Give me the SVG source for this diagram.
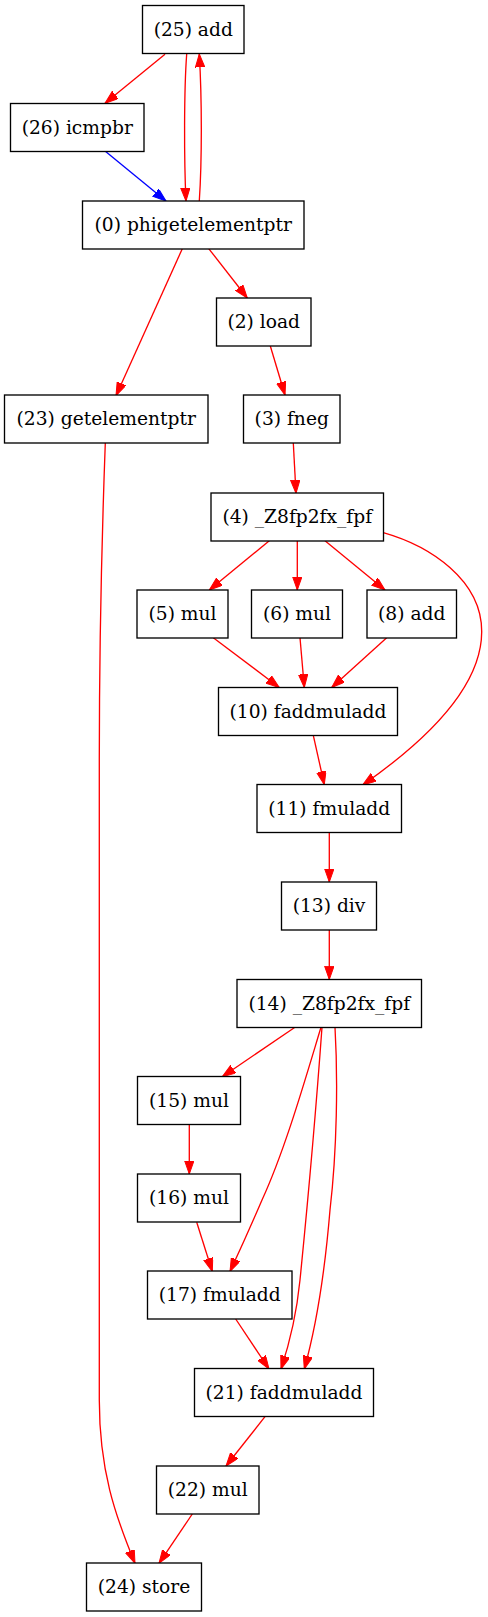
<svg xmlns="http://www.w3.org/2000/svg" width="488" height="1617" viewBox="0 0 488 1617">
<style>
.n rect{fill:#fff;stroke:#000;stroke-width:1.33}
.n text{font-family:"DejaVu Serif","Liberation Serif",serif;font-size:18.67px;text-anchor:middle;fill:#000}
.e path{fill:none;stroke-width:1.33}
.r path{stroke:#f00}
.b path{stroke:#00f}
</style>
<defs>
<marker id="ar" markerUnits="userSpaceOnUse" markerWidth="14" markerHeight="10" refX="13.3" refY="4.7" orient="auto"><path d="M0,0 L13.3,4.7 L0,9.4 z" fill="#f00" stroke="#f00"/></marker>
<marker id="ab" markerUnits="userSpaceOnUse" markerWidth="14" markerHeight="10" refX="13.3" refY="4.7" orient="auto"><path d="M0,0 L13.3,4.7 L0,9.4 z" fill="#00f" stroke="#00f"/></marker>
</defs>
<rect width="488" height="1617" fill="#fff"/>
<g id="edges" class="e">
<g class="r">
<path marker-end="url(#ar)" d="M165,54.3 L105,103.3"/>
<path marker-end="url(#ar)" d="M186.7,54 C184,90 184,160 186,201"/>
<path marker-end="url(#ar)" d="M199.3,201 C202,160 202,100 199.3,54"/>
<path marker-end="url(#ar)" d="M182.5,248.3 L116,395.7"/>
<path marker-end="url(#ar)" d="M208.5,248.3 L247.3,298"/>
<path marker-end="url(#ar)" d="M270.3,346 L285,395"/>
<path marker-end="url(#ar)" d="M293.3,443 L296,493.3"/>
<path marker-end="url(#ar)" d="M105.3,443 C101,560 99.3,640 99.3,760 L99.3,1400 C99.3,1470 115,1515 135,1563.3"/>
<path marker-end="url(#ar)" d="M269.3,540.7 L209.3,590"/>
<path marker-end="url(#ar)" d="M297.3,540.7 L297.3,590"/>
<path marker-end="url(#ar)" d="M325,540.7 L385,590"/>
<path marker-end="url(#ar)" d="M383.3,532.7 C430,546 482,580 481.7,632 C481.5,690 420,745 362.7,785"/>
<path marker-end="url(#ar)" d="M213.3,637.7 L279.3,687.5"/>
<path marker-end="url(#ar)" d="M300,637.7 L304.3,687.5"/>
<path marker-end="url(#ar)" d="M386.7,637.7 L331.7,687.5"/>
<path marker-end="url(#ar)" d="M313.3,735.3 L324.3,784.7"/>
<path marker-end="url(#ar)" d="M329.3,832.7 L329.3,882"/>
<path marker-end="url(#ar)" d="M329.3,930 L329.3,979.5"/>
<path marker-end="url(#ar)" d="M295,1027.3 L222.3,1076.7"/>
<path marker-end="url(#ar)" d="M189.3,1124.7 L189.3,1174"/>
<path marker-end="url(#ar)" d="M321,1027.3 C305,1080 285,1150 262,1200 C250,1228 240,1250 230,1271.5"/>
<path marker-end="url(#ar)" d="M322,1027.3 C316,1110 308,1200 300,1280 C296,1320 288,1348 281,1369"/>
<path marker-end="url(#ar)" d="M335,1027.3 C338,1080 337,1150 330,1210 C325,1270 318,1320 304.3,1369"/>
<path marker-end="url(#ar)" d="M196.7,1222.3 L212.3,1271.5"/>
<path marker-end="url(#ar)" d="M235.7,1319 L269,1369"/>
<path marker-end="url(#ar)" d="M265,1416.7 L226,1466"/>
<path marker-end="url(#ar)" d="M192.3,1514 L159,1563.3"/>
</g>
<g class="b">
<path marker-end="url(#ab)" d="M105,151 L166,201"/>
</g>
</g>
<g id="n25" class="n"><rect x="142.5" y="5.5" width="101.5" height="48"/><text x="193.25" y="35.5">(25) add</text></g>
<g id="n26" class="n"><rect x="10.5" y="103.5" width="133.5" height="48"/><text x="77.25" y="133.5">(26) icmpbr</text></g>
<g id="n0" class="n"><rect x="82.5" y="201" width="221.5" height="48"/><text x="193.25" y="231">(0) phigetelementptr</text></g>
<g id="n2" class="n"><rect x="216.5" y="298" width="94.5" height="48"/><text x="263.75" y="328">(2) load</text></g>
<g id="n23" class="n"><rect x="4.5" y="395" width="203.5" height="48"/><text x="106.25" y="425">(23) getelementptr</text></g>
<g id="n3" class="n"><rect x="243.5" y="395" width="96.5" height="48"/><text x="291.75" y="425">(3) fneg</text></g>
<g id="n4" class="n"><rect x="211" y="493" width="172.5" height="48"/><text x="297.25" y="523">(4) _Z8fp2fx_fpf</text></g>
<g id="n5" class="n"><rect x="137" y="590" width="91" height="48"/><text x="182.5" y="620">(5) mul</text></g>
<g id="n6" class="n"><rect x="251.5" y="590" width="91" height="48"/><text x="297" y="620">(6) mul</text></g>
<g id="n8" class="n"><rect x="367" y="590" width="89.5" height="48"/><text x="411.75" y="620">(8) add</text></g>
<g id="n10" class="n"><rect x="218.5" y="687.5" width="179" height="48"/><text x="308" y="717.5">(10) faddmuladd</text></g>
<g id="n11" class="n"><rect x="257" y="784.5" width="144.5" height="48"/><text x="329.25" y="814.5">(11) fmuladd</text></g>
<g id="n13" class="n"><rect x="281.5" y="882" width="95" height="48"/><text x="329" y="912">(13) div</text></g>
<g id="n14" class="n"><rect x="237" y="979.5" width="184.5" height="48"/><text x="329.25" y="1009.5">(14) _Z8fp2fx_fpf</text></g>
<g id="n15" class="n"><rect x="137.5" y="1076.5" width="103" height="48"/><text x="189" y="1106.5">(15) mul</text></g>
<g id="n16" class="n"><rect x="137.5" y="1174" width="103" height="48"/><text x="189" y="1204">(16) mul</text></g>
<g id="n17" class="n"><rect x="147.5" y="1271" width="144.5" height="48"/><text x="219.75" y="1301">(17) fmuladd</text></g>
<g id="n21" class="n"><rect x="194.5" y="1368.5" width="179" height="48"/><text x="284" y="1398.5">(21) faddmuladd</text></g>
<g id="n22" class="n"><rect x="156.5" y="1466" width="102.5" height="48"/><text x="207.75" y="1496">(22) mul</text></g>
<g id="n24" class="n"><rect x="86.5" y="1563" width="115" height="48"/><text x="144" y="1593">(24) store</text></g>
</svg>
